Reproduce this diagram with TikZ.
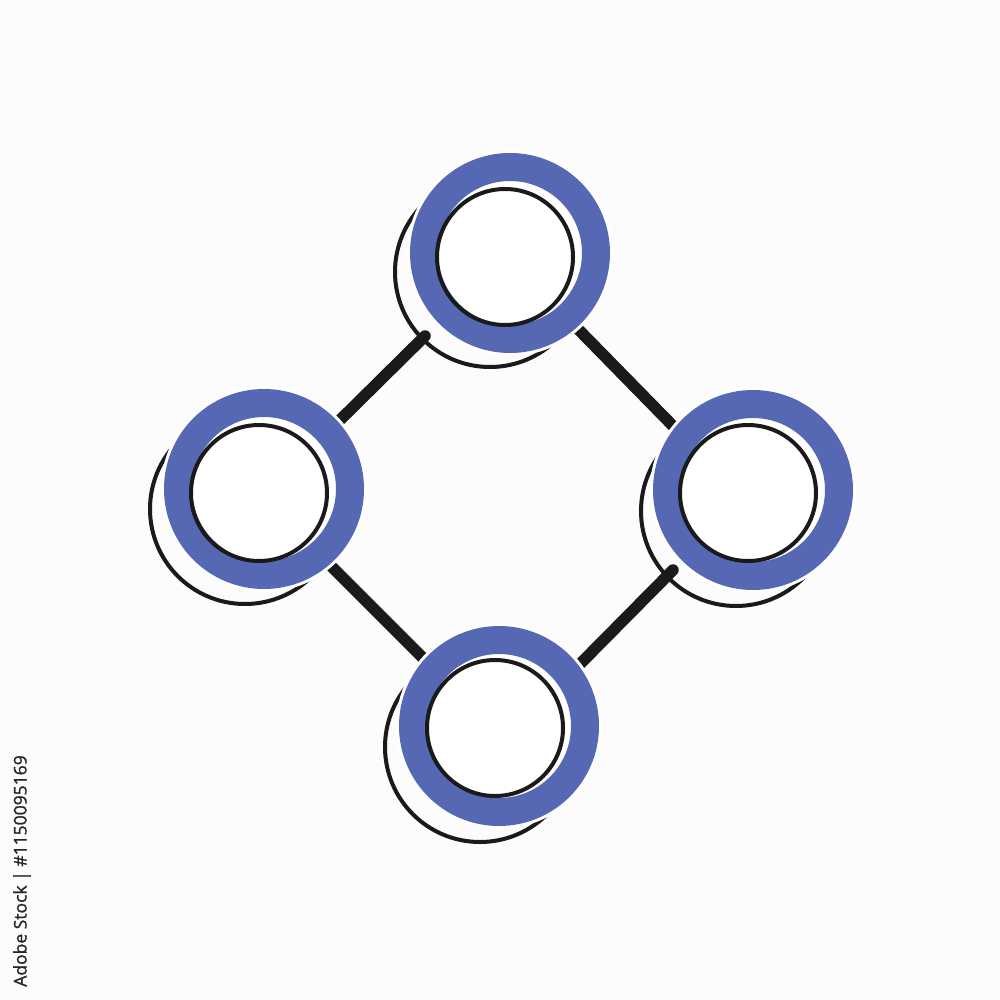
\documentclass[tikz,border=0pt]{standalone}
\usepackage{fontspec}
\setmainfont{Open Sans}
\newfontfamily\creditfont[FakeBold=1.2]{Open Sans}
\definecolor{bg}{HTML}{FCFCFC}
\definecolor{ringblue}{HTML}{5668B3}
\definecolor{ink}{HTML}{1A1A1A}
\definecolor{credit}{HTML}{262626}
\begin{document}
\begin{tikzpicture}[x=1pt,y=-1pt,
  outerc/.style={circle,draw=ink,line width=4pt,inner sep=0pt,minimum size=190pt},
  halo/.style={circle,fill=white,inner sep=0pt,minimum size=206pt},
  ring/.style={circle,draw=ringblue,fill=white,line width=28pt,inner sep=0pt,minimum size=172pt},
  innerc/.style={circle,draw=ink,line width=4pt,inner sep=0pt,minimum size=136pt},
  link/.style={draw=ink,line width=11.5pt,line cap=round}]
\fill[bg] (0,0) rectangle (1000,1000);
\useasboundingbox (0,0) rectangle (1000,1000);
% outer offset circles
\node[outerc] (tout) at (490,272) {};
\node[outerc] (lout) at (245,509) {};
\node[outerc] (rout) at (736,511) {};
\node[outerc] (bout) at (480,747) {};
% connector ends
\coordinate (tl1) at (425,336);
\coordinate (tl2) at (337,423);
\coordinate (tr1) at (577,328);
\coordinate (tr2) at (674,427);
\coordinate (bl1) at (331,566);
\coordinate (bl2) at (425,660);
\coordinate (br1) at (673,570);
\coordinate (br2) at (579,665);
\draw[link] (tl1) -- (tl2);
\draw[link] (tr1) -- (tr2);
\draw[link] (bl1) -- (bl2);
\draw[link] (br1) -- (br2);
% halos and rings
\node[halo] (th) at (510,253) {};
\node[halo] (lh) at (264,489) {};
\node[halo] (rh) at (753,490) {};
\node[halo] (bh) at (499,726) {};
\node[ring] (t) at (510,253) {};
\node[ring] (l) at (264,489) {};
\node[ring] (r) at (753,490) {};
\node[ring] (b) at (499,726) {};
% inner circles
\node[innerc] (tin) at (505,257) {};
\node[innerc] (lin) at (259,493) {};
\node[innerc] (rin) at (748,493) {};
\node[innerc] (bin) at (495,728) {};
% credit line
\node[rotate=90,text=credit,font=\creditfont\fontsize{17.5}{20}\selectfont,inner sep=0pt] (credit) at (22,871) {Adobe Stock | \#1150095169};
\end{tikzpicture}
\end{document}
